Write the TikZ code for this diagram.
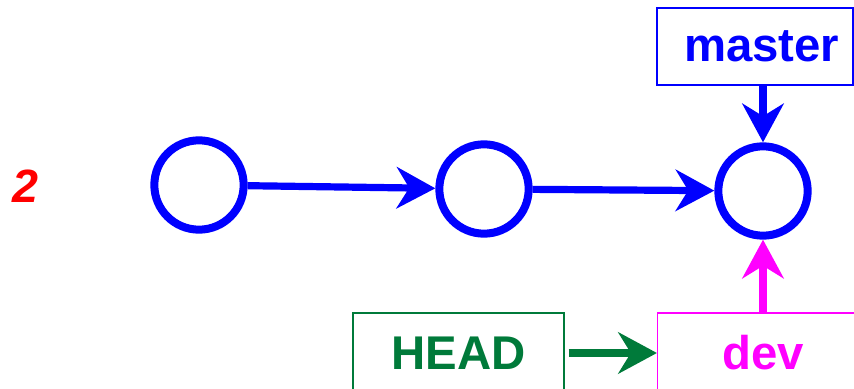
\documentclass[tikz,border=0pt]{standalone}
\usepackage{fontspec}
\setmainfont{Liberation Sans}
\usetikzlibrary{arrows.meta}
\definecolor{headgreen}{RGB}{0,122,58}
\definecolor{devpink}{RGB}{255,0,255}
\tikzset{
  commit/.style={circle,draw=blue,line width=6pt,minimum size=67pt,inner sep=0pt},
  refbox/.style={draw,line width=1.1pt,minimum width=158pt,minimum height=60pt,inner sep=0pt,font=\fontsize{35.5}{42}\selectfont\bfseries},
  refarrow/.style={line width=5.4pt,-{Stealth[length=29pt,width=31pt]}},
}
\begin{document}
\begin{tikzpicture}[x=0.75pt,y=0.75pt,yscale=-1,xscale=1]
\useasboundingbox (0,0) rectangle (854,389);

% commits
\node[commit] (c1) at (199,185) {};
\node[commit] (c2) at (484,189) {};
\node[commit] (c3) at (763,191) {};

% step label
\node[text=red,font=\fontsize{35}{42}\selectfont\bfseries\itshape] (step) at (25,186) {2};

% branch and head pointers
\node[refbox,draw=blue,text=blue,minimum width=147pt,minimum height=58pt] (master) at (755,46.5) {\hspace*{10pt}master};
\node[refbox,draw=headgreen,text=headgreen] (head) at (458.5,353) {HEAD};
\node[refbox,draw=devpink,text=devpink] (dev) at (763,353) {dev};

% connectors
\draw[refarrow,blue] (c1) -- (c2);
\draw[refarrow,blue] (c2) -- (c3);
\draw[refarrow,blue] (master.south -| c3) -- (c3);
\draw[refarrow,devpink] (dev) -- (c3);
\draw[refarrow,headgreen,shorten <=3pt] (head) -- (dev);

\end{tikzpicture}
\end{document}
